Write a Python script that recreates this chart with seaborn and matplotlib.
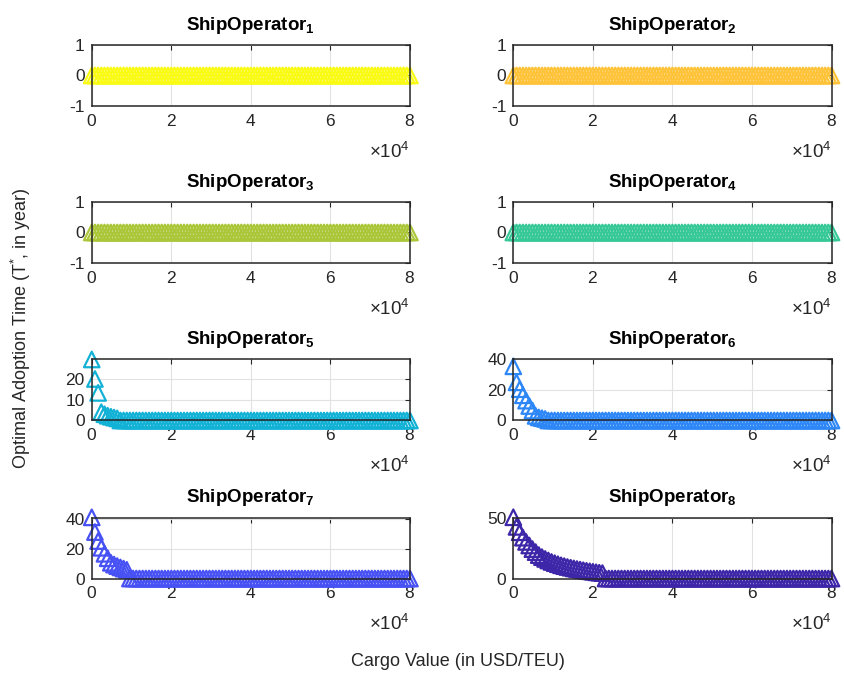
import numpy as np
import matplotlib
matplotlib.use("Agg")
import matplotlib.pyplot as plt
import seaborn as sns

# Cargo value grid (USD/TEU)
cargo_value = np.arange(0, 80001, 800)

# Optimal adoption time T* (years) for each ship operator
ship_operator_1 = [
    0, 0, 0, 0, 0, 0, 0, 0, 0, 0, 0, 0, 0, 0, 0, 0, 0, 0, 0, 0,
    0, 0, 0, 0, 0, 0, 0, 0, 0, 0, 0, 0, 0, 0, 0, 0, 0, 0, 0, 0,
    0, 0, 0, 0, 0, 0, 0, 0, 0, 0, 0, 0, 0, 0, 0, 0, 0, 0, 0, 0,
    0, 0, 0, 0, 0, 0, 0, 0, 0, 0, 0, 0, 0, 0, 0, 0, 0, 0, 0, 0,
    0, 0, 0, 0, 0, 0, 0, 0, 0, 0, 0, 0, 0, 0, 0, 0, 0, 0, 0, 0,
    0,
]
ship_operator_2 = [
    0, 0, 0, 0, 0, 0, 0, 0, 0, 0, 0, 0, 0, 0, 0, 0, 0, 0, 0, 0,
    0, 0, 0, 0, 0, 0, 0, 0, 0, 0, 0, 0, 0, 0, 0, 0, 0, 0, 0, 0,
    0, 0, 0, 0, 0, 0, 0, 0, 0, 0, 0, 0, 0, 0, 0, 0, 0, 0, 0, 0,
    0, 0, 0, 0, 0, 0, 0, 0, 0, 0, 0, 0, 0, 0, 0, 0, 0, 0, 0, 0,
    0, 0, 0, 0, 0, 0, 0, 0, 0, 0, 0, 0, 0, 0, 0, 0, 0, 0, 0, 0,
    0,
]
ship_operator_3 = [
    0, 0, 0, 0, 0, 0, 0, 0, 0, 0, 0, 0, 0, 0, 0, 0, 0, 0, 0, 0,
    0, 0, 0, 0, 0, 0, 0, 0, 0, 0, 0, 0, 0, 0, 0, 0, 0, 0, 0, 0,
    0, 0, 0, 0, 0, 0, 0, 0, 0, 0, 0, 0, 0, 0, 0, 0, 0, 0, 0, 0,
    0, 0, 0, 0, 0, 0, 0, 0, 0, 0, 0, 0, 0, 0, 0, 0, 0, 0, 0, 0,
    0, 0, 0, 0, 0, 0, 0, 0, 0, 0, 0, 0, 0, 0, 0, 0, 0, 0, 0, 0,
    0,
]
ship_operator_4 = [
    0, 0, 0, 0, 0, 0, 0, 0, 0, 0, 0, 0, 0, 0, 0, 0, 0, 0, 0, 0,
    0, 0, 0, 0, 0, 0, 0, 0, 0, 0, 0, 0, 0, 0, 0, 0, 0, 0, 0, 0,
    0, 0, 0, 0, 0, 0, 0, 0, 0, 0, 0, 0, 0, 0, 0, 0, 0, 0, 0, 0,
    0, 0, 0, 0, 0, 0, 0, 0, 0, 0, 0, 0, 0, 0, 0, 0, 0, 0, 0, 0,
    0, 0, 0, 0, 0, 0, 0, 0, 0, 0, 0, 0, 0, 0, 0, 0, 0, 0, 0, 0,
    0,
]
ship_operator_5 = [
    29.4, 20.0, 13.3, 4.0, 3.0, 2.3, 1.8, 1.4, 1.0,
    0, 0, 0, 0, 0, 0, 0, 0, 0, 0, 0, 0, 0, 0, 0, 0, 0, 0, 0, 0,
    0, 0, 0, 0, 0, 0, 0, 0, 0, 0, 0, 0, 0, 0, 0, 0, 0, 0, 0, 0,
    0, 0, 0, 0, 0, 0, 0, 0, 0, 0, 0, 0, 0, 0, 0, 0, 0, 0, 0, 0,
    0, 0, 0, 0, 0, 0, 0, 0, 0, 0, 0, 0, 0, 0, 0, 0, 0, 0, 0, 0,
    0, 0, 0, 0, 0, 0, 0, 0, 0, 0, 0, 0,
]
ship_operator_6 = [
    35.5, 25.0, 20.5, 16.5, 13.0, 9.5, 6.5, 3.0, 2.0, 1.5, 1.0,
    0, 0, 0, 0, 0, 0, 0, 0, 0, 0, 0, 0, 0, 0, 0, 0, 0, 0, 0, 0,
    0, 0, 0, 0, 0, 0, 0, 0, 0, 0, 0, 0, 0, 0, 0, 0, 0, 0, 0, 0,
    0, 0, 0, 0, 0, 0, 0, 0, 0, 0, 0, 0, 0, 0, 0, 0, 0, 0, 0, 0,
    0, 0, 0, 0, 0, 0, 0, 0, 0, 0, 0, 0, 0, 0, 0, 0, 0, 0, 0, 0,
    0, 0, 0, 0, 0, 0, 0, 0, 0, 0,
]
ship_operator_7 = [
    40.8, 31.0, 25.0, 20.5, 16.5, 13.5, 10.5, 9.3, 8.3, 7.4, 6.6, 5.8,
    0, 0, 0, 0, 0, 0, 0, 0, 0, 0, 0, 0, 0, 0, 0, 0, 0, 0, 0, 0,
    0, 0, 0, 0, 0, 0, 0, 0, 0, 0, 0, 0, 0, 0, 0, 0, 0, 0, 0, 0,
    0, 0, 0, 0, 0, 0, 0, 0, 0, 0, 0, 0, 0, 0, 0, 0, 0, 0, 0, 0,
    0, 0, 0, 0, 0, 0, 0, 0, 0, 0, 0, 0, 0, 0, 0, 0, 0, 0, 0, 0,
    0, 0, 0, 0, 0, 0, 0, 0, 0,
]
ship_operator_8 = [
    51.0, 43.0, 38.5, 34.0, 30.5, 27.5, 24.5, 22.0, 19.5, 17.8,
    16.3, 15.0, 13.8, 12.8, 11.9, 11.0, 10.3, 9.6, 9.0, 8.4,
    7.9, 7.4, 6.9, 6.4, 6.0, 5.6, 5.2, 4.8, 4.5,
    0, 0, 0, 0, 0, 0, 0, 0, 0, 0, 0, 0, 0, 0, 0, 0, 0, 0, 0, 0,
    0, 0, 0, 0, 0, 0, 0, 0, 0, 0, 0, 0, 0, 0, 0, 0, 0, 0, 0, 0,
    0, 0, 0, 0, 0, 0, 0, 0, 0, 0, 0, 0, 0, 0, 0, 0, 0, 0, 0, 0,
    0, 0, 0, 0, 0, 0, 0, 0, 0, 0, 0, 0,
]

series = [ship_operator_1, ship_operator_2, ship_operator_3, ship_operator_4,
          ship_operator_5, ship_operator_6, ship_operator_7, ship_operator_8]

titles = [f"ShipOperator$_{{\\mathbf{{{k}}}}}$" for k in range(1, 9)]

# parula-like colours, one per operator
colors = [
    (0.9769, 0.9839, 0.0805),
    (0.9970, 0.7659, 0.2199),
    (0.6720, 0.7793, 0.2227),
    (0.2161, 0.7843, 0.5923),
    (0.0689, 0.6948, 0.8394),
    (0.1786, 0.5289, 0.9682),
    (0.2810, 0.3228, 0.9579),
    (0.2422, 0.1504, 0.6603),
]

y_limits = [(-1, 1), (-1, 1), (-1, 1), (-1, 1), (0, 29.4), (0, 40), (0, 40.7), (0, 50.8)]
y_ticks = [[-1, 0, 1], [-1, 0, 1], [-1, 0, 1], [-1, 0, 1],
           [0, 10, 20], [0, 20, 40], [0, 20, 40], [0, 50]]
x_ticks = [0, 20000, 40000, 60000, 80000]

sns.set_style("white")
plt.rcParams.update({
    "font.family": ["Liberation Sans", "DejaVu Sans"],
    "mathtext.fontset": "custom",
    "mathtext.rm": "Liberation Sans",
    "mathtext.it": "Liberation Sans:italic",
    "mathtext.bf": "Liberation Sans:bold",
    "axes.unicode_minus": False,
    "xtick.labelsize": 12.5,
    "ytick.labelsize": 12.5,
})

axis_gray = "#262626"
fig = plt.figure(figsize=(8.44, 6.78), dpi=100)

col_left = [0.1087, 0.6082]
row_bottom = [0.8437, 0.6121, 0.3798, 0.1467]
ax_w, ax_h = 0.3770, 0.0900

for k in range(8):
    r, c = divmod(k, 2)
    ax = fig.add_axes([col_left[c], row_bottom[r], ax_w, ax_h])
    sns.scatterplot(x=cargo_value, y=series[k], marker="^", s=125,
                    facecolor="none", edgecolor=colors[k], linewidth=1.6,
                    clip_on=False, legend=False, ax=ax, zorder=3)
    ax.set_xlim(0, 80000)
    ax.set_ylim(*y_limits[k])
    ax.set_xticks(x_ticks)
    ax.set_yticks(y_ticks[k])
    ax.ticklabel_format(axis="x", style="sci", scilimits=(0, 0), useMathText=True)
    ax.xaxis.OFFSETTEXTPAD = 9
    offset = ax.xaxis.get_offset_text()
    offset.set_color(axis_gray)
    offset.set_fontsize(13.5)
    ax.grid(True, color="#e2e2e2", linewidth=0.8)
    ax.set_axisbelow(True)
    for sp in ax.spines.values():
        sp.set_color(axis_gray)
        sp.set_linewidth(1.1)
        sp.set_zorder(4)
    ax.tick_params(direction="in", length=3.5, width=0.8, top=True, right=True,
                   colors=axis_gray, pad=5)
    ax.set_xlabel("")
    ax.set_ylabel("")
    ax.set_title(titles[k], fontsize=13.5, fontweight="bold", pad=11, color="black")

fig.text(0.543, 0.024, "Cargo Value (in USD/TEU)", ha="center", va="center",
         fontsize=13, color=axis_gray)
fig.text(0.025, 0.516, "Optimal Adoption Time (T$^{*}$, in year)", ha="center",
         va="center", rotation=90, fontsize=13, color=axis_gray)

fig.savefig("out.png", dpi=100)
